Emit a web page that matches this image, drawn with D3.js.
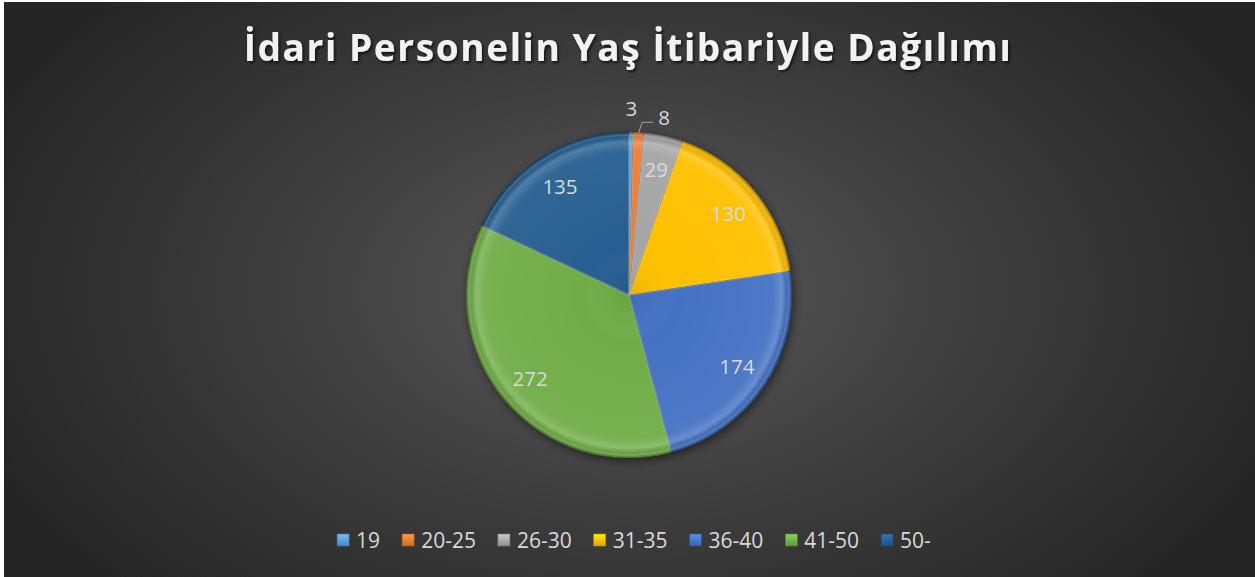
<!DOCTYPE html>
<html>
<head>
<meta charset="utf-8">
<script src="https://cdnjs.cloudflare.com/ajax/libs/d3/7.8.5/d3.min.js"></script>
<style>
  body { margin: 0; background: #fff; }
  svg { display: block; }
</style>
</head>
<body>
<script>
const width = 1255,
    height = 577;

// data
const categories = ["19", "20-25", "26-30", "31-35", "36-40", "41-50", "50-"];
const values = [3, 8, 29, 130, 174, 272, 135];
const colors = ["#5B9BD5", "#ED7D31", "#A5A5A5", "#FFC000", "#4472C4", "#70AD47", "#255E91"];
const title = "İdari Personelin Yaş İtibariyle Dağılımı";

const data = categories.map((c, i) => ({ label: c, value: values[i], color: colors[i] }));

const svg = d3.select('body').append('svg')
    .attr('width', width)
    .attr('height', height);

const defs = svg.append("defs");

// background radial gradient
const bg = defs.append("radialGradient").attr("id", "bg")
    .attr("gradientUnits", "userSpaceOnUse")
    .attr("cx", 628).attr("cy", 290).attr("r", 700)
    .attr("gradientTransform", "translate(628,290) scale(1,0.62) translate(-628,-290)");
bg.append("stop").attr("offset", "0%").attr("stop-color", "#595959");
bg.append("stop").attr("offset", "55%").attr("stop-color", "#3b3b3b");
bg.append("stop").attr("offset", "100%").attr("stop-color", "#252525");

svg.append("rect")
    .attr("x", 4).attr("y", 2)
    .attr("width", width - 4).attr("height", height - 2)
    .attr("fill", "url(#bg)");

// title, bold and spread out, with a soft shadow
const shadow = defs.append("filter").attr("id", "tshadow")
    .attr("x", "-10%").attr("y", "-30%").attr("width", "120%").attr("height", "160%");
shadow.append("feDropShadow").attr("dx", 1.5).attr("dy", 2).attr("stdDeviation", 1.5)
    .attr("flood-color", "#000").attr("flood-opacity", 0.7);

const titleText = svg.append("text")
    .attr("x", 628).attr("y", 61)
    .attr("text-anchor", "middle")
    .attr("fill", "#f2f2f2")
    .style("font-family", "'Open Sans', sans-serif")
    .style("font-weight", "bold")
    .style("font-size", "37px")
    .attr("filter", "url(#tshadow)")
    .text(title);

// stretch letter spacing so the title spans the same width as the original
var tw = titleText.node().getComputedTextLength();
var spacing = (767 - tw) / (title.length - 1);
titleText.style("letter-spacing", spacing + "px");

// pie
const cx = 629, cy = 295, r = 163;

const pie = d3.pie().sort(null).value(d => d.value);
const arc = d3.arc().innerRadius(0).outerRadius(r);
const labelArc = d3.arc().innerRadius(129).outerRadius(129);
const arcs = pie(data);

const pshadow = defs.append("filter").attr("id", "pshadow")
    .attr("x", "-20%").attr("y", "-20%").attr("width", "140%").attr("height", "140%");
pshadow.append("feDropShadow").attr("dx", 2).attr("dy", 3).attr("stdDeviation", 4)
    .attr("flood-color", "#000").attr("flood-opacity", 0.5);

// bevel-ish shading over the whole disc
const bevel = defs.append("radialGradient").attr("id", "bevel")
    .attr("gradientUnits", "userSpaceOnUse")
    .attr("cx", 0).attr("cy", 0).attr("r", r);
bevel.append("stop").attr("offset", "0%").attr("stop-color", "#000").attr("stop-opacity", 0.08);
bevel.append("stop").attr("offset", "30%").attr("stop-color", "#fff").attr("stop-opacity", 0);
bevel.append("stop").attr("offset", "88%").attr("stop-color", "#fff").attr("stop-opacity", 0.05);
bevel.append("stop").attr("offset", "94%").attr("stop-color", "#fff").attr("stop-opacity", 0.2);
bevel.append("stop").attr("offset", "98%").attr("stop-color", "#000").attr("stop-opacity", 0.08);
bevel.append("stop").attr("offset", "100%").attr("stop-color", "#000").attr("stop-opacity", 0.3);

var chartLayer = svg.append("g").attr("transform", `translate(${cx},${cy})`);

chartLayer.append("g")
    .attr("filter", "url(#pshadow)")
    .selectAll("path")
    .data(arcs)
    .enter().append("path")
    .attr("d", arc)
    .attr("fill", d => d.data.color);

chartLayer.append("g")
    .selectAll("path")
    .data(arcs)
    .enter().append("path")
    .attr("d", arc)
    .attr("fill", "url(#bevel)")
    .attr("stroke", "rgba(0,0,0,0.12)")
    .attr("stroke-width", 1);

// light inner edge along each slice, like the soft bevel
chartLayer.append("g")
    .selectAll("path")
    .data(arcs)
    .enter().append("path")
    .attr("d", d3.arc().innerRadius(0).outerRadius(r - 3))
    .attr("fill", "none")
    .attr("stroke", "rgba(255,255,255,0.12)")
    .attr("stroke-width", 2);

// data labels: inside for the big slices, outside for the two thin ones
const labelStyle = sel => sel
    .attr("fill", "#d9d9d9")
    .style("font-family", "'Open Sans', sans-serif")
    .style("font-size", "20.5px")
    .attr("text-anchor", "middle")
    .attr("dominant-baseline", "central");

chartLayer.append("g")
    .selectAll("text")
    .data(arcs.filter(d => d.data.value > 20))
    .enter().append("text")
    .call(labelStyle)
    .attr("x", d => labelArc.centroid(d)[0])
    .attr("y", d => labelArc.centroid(d)[1])
    .text(d => d.data.value);

// "3" sits right above its slice
const a0 = arcs[0];
const outer0 = d3.arc().innerRadius(r + 24).outerRadius(r + 24).centroid(a0);
chartLayer.append("text")
    .call(labelStyle)
    .attr("x", outer0[0])
    .attr("y", outer0[1])
    .text(a0.data.value);

// "8" gets a leader line
const a1 = arcs[1];
const edge1 = d3.arc().innerRadius(r - 1).outerRadius(r - 1).centroid(a1);
const elbow1 = d3.arc().innerRadius(r + 10).outerRadius(r + 10).centroid(a1);
chartLayer.append("polyline")
    .attr("points", [edge1, [elbow1[0] + 3, elbow1[1]], [elbow1[0] + 14, elbow1[1]]].map(p => p.join(",")).join(" "))
    .attr("fill", "none")
    .attr("stroke", "#a6a6a6")
    .attr("stroke-width", 1);
chartLayer.append("text")
    .call(labelStyle)
    .attr("x", elbow1[0] + 25)
    .attr("y", elbow1[1] - 5)
    .text(a1.data.value);

// legend
const legend = svg.append("g").attr("transform", "translate(0,540)");

data.forEach((d, i) => {
  var g = defs.append("linearGradient").attr("id", "lg" + i)
      .attr("x1", 0).attr("y1", 0).attr("x2", 0).attr("y2", 1);
  g.append("stop").attr("offset", "0%").attr("stop-color", d3.color(d.color).brighter(0.6));
  g.append("stop").attr("offset", "100%").attr("stop-color", d3.color(d.color).darker(0.4));
});

const items = legend.selectAll("g.item")
    .data(data)
    .enter().append("g")
    .attr("class", "item");

items.append("rect")
    .attr("y", -6).attr("width", 12).attr("height", 12)
    .attr("fill", (d, i) => `url(#lg${i})`)
    .attr("stroke", d => d3.color(d.color).darker(0.8))
    .attr("stroke-width", 0.6);

items.append("text")
    .attr("x", 19)
    .attr("dominant-baseline", "central")
    .attr("fill", "#d9d9d9")
    .style("font-family", "'Open Sans', sans-serif")
    .style("font-size", "21px")
    .text(d => d.label);

// lay out legend items side by side, centered
var widths = [];
items.each(function() { widths.push(this.getBBox().width); });
const gap = 22;
var total = d3.sum(widths) + gap * (widths.length - 1);
var x = 634 - total / 2;
items.attr("transform", (d, i) => {
  var t = `translate(${x},0)`;
  x += widths[i] + gap;
  return t;
});
</script>
</body>
</html>
